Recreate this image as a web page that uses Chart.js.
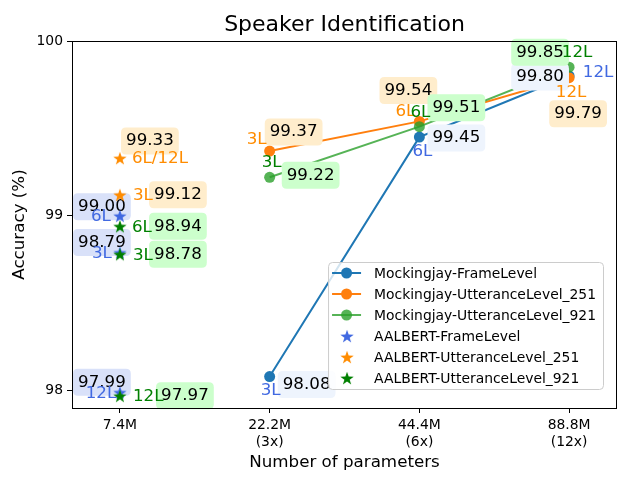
<!DOCTYPE html>
<html>
<head>
<meta charset="utf-8">
<script src="https://cdn.jsdelivr.net/npm/chart.js@4/dist/chart.umd.min.js"></script>
<style>
  html, body { margin: 0; padding: 0; background: #ffffff; }
  #wrap { width: 640px; height: 480px; }
</style>
</head>
<body>
<div id="wrap"><canvas id="c" width="640" height="480"></canvas></div>
<script>
// ---------------- data ----------------
const paramLabels = ['7.4M', '22.2M', '44.4M', '88.8M'];
const paramRatios = ['', '(3x)', '(6x)', '(12x)'];
const yTicks = [98, 99, 100];

const mjParamIdx = [1, 2, 3];
const mjLayers = ['3L', '6L', '12L'];
const mjFrameAcc = [98.08, 99.45, 99.80];
const mjUtt251Acc = [99.37, 99.54, 99.79];
const mjUtt921Acc = [99.22, 99.51, 99.85];

const alParamIdx = 0;
const alFrameAcc = [99.00, 98.79, 97.99];
const alFrameLayers = ['6L', '3L', '12L'];
const alUtt251Acc = [99.33, 99.12];
const alUtt251Layers = ['6L/12L', '3L'];
const alUtt921Acc = [98.94, 98.78, 97.97];
const alUtt921Layers = ['6L', '3L', '12L'];

const seriesNames = [
  'Mockingjay-FrameLevel',
  'Mockingjay-UtteranceLevel_251',
  'Mockingjay-UtteranceLevel_921',
  'AALBERT-FrameLevel',
  'AALBERT-UtteranceLevel_251',
  'AALBERT-UtteranceLevel_921'
];

// ---------------- label layout (pixel offsets from each point) ----------------
// l: [dx, dy, align] for layer label, v: [dx, dy] for value box centre
const labelLayout = [
  [ {l:[1,14,'center'], v:[37,8]}, {l:[3,15,'center'], v:[37,1]}, {l:[29,-3,'center'], v:[-29,1]} ],
  [ {l:[-13,-11,'center'], v:[24,-19]}, {l:[-14,-10,'center'], v:[-11,-31]}, {l:[2,15,'center'], v:[9,36]} ],
  [ {l:[2,-15,'center'], v:[41,-2]}, {l:[1,-14,'center'], v:[37,-19]}, {l:[8,-15,'center'], v:[-29,-15]} ],
  [ {l:[-19,1,'center'], v:[-18,-9]}, {l:[-18,1,'center'], v:[-18,-10]}, {l:[-19,1,'center'], v:[-18,-10]} ],
  [ {l:[12,1,'left'], v:[30,-17]}, {l:[13,1,'left'], v:[58,0]} ],
  [ {l:[12,1,'left'], v:[58,0]}, {l:[13,1,'left'], v:[58,0]}, {l:[13,1,'left'], v:[65,0]} ]
];
const layerLabelColors = ['#4169e1', '#ff8c00', '#008000', '#4169e1', '#ff8c00', '#008000'];
const boxColors = ['#eef4fd', '#ffedcc', '#ccffcc', '#d9e1f9', '#ffedcc', '#ccffcc'];

const FONT = '"DejaVu Sans", "Liberation Sans", sans-serif';

function makeStar(color) {
  const s = 16;
  const c = document.createElement('canvas');
  c.width = s; c.height = s;
  const g = c.getContext('2d');
  g.fillStyle = color;
  g.beginPath();
  for (let i = 0; i < 10; i++) {
    const r = (i % 2) ? 2.8 : 7.0;
    const a = -Math.PI / 2 + i * Math.PI / 5;
    const px = s / 2 + r * Math.cos(a);
    const py = s / 2 + 0.8 + r * Math.sin(a);
    if (i === 0) g.moveTo(px, py); else g.lineTo(px, py);
  }
  g.closePath();
  g.fill();
  return c;
}

const layerLists = [mjLayers, mjLayers, mjLayers, alFrameLayers, alUtt251Layers, alUtt921Layers];

function mjPoints(arr) { return arr.map((v, i) => ({x: mjParamIdx[i], y: v})); }
function alPoints(arr) { return arr.map(v => ({x: alParamIdx, y: v})); }

const datasets = [
  {label: seriesNames[0], data: mjPoints(mjFrameAcc), order: 3, borderColor: '#1f77b4', backgroundColor: '#1f77b4', showLine: true, borderWidth: 2, pointRadius: 5.5, pointBorderWidth: 0, pointStyle: 'circle', kind: 'line'},
  {label: seriesNames[1], data: mjPoints(mjUtt251Acc), order: 2, borderColor: '#ff7f0e', backgroundColor: '#ff7f0e', showLine: true, borderWidth: 2, pointRadius: 5.5, pointBorderWidth: 0, pointStyle: 'circle', kind: 'line'},
  {label: seriesNames[2], data: mjPoints(mjUtt921Acc), order: 1, borderColor: 'rgba(44,160,44,0.8)', backgroundColor: 'rgba(44,160,44,0.8)', showLine: true, borderWidth: 2, pointRadius: 5.5, pointBorderWidth: 0, pointStyle: 'circle', kind: 'line'},
  {label: seriesNames[3], data: alPoints(alFrameAcc), order: 0, borderColor: '#4169e1', backgroundColor: '#4169e1', showLine: false, pointStyle: makeStar('#4169e1'), kind: 'star'},
  {label: seriesNames[4], data: alPoints(alUtt251Acc), order: -1, borderColor: '#ff8c00', backgroundColor: '#ff8c00', showLine: false, pointStyle: makeStar('#ff8c00'), kind: 'star'},
  {label: seriesNames[5], data: alPoints(alUtt921Acc), order: -2, borderColor: '#008000', backgroundColor: '#008000', showLine: false, pointStyle: makeStar('#008000'), kind: 'star'}
];

function roundRect(ctx, x, y, w, h, r) {
  ctx.beginPath();
  ctx.moveTo(x + r, y);
  ctx.lineTo(x + w - r, y);
  ctx.quadraticCurveTo(x + w, y, x + w, y + r);
  ctx.lineTo(x + w, y + h - r);
  ctx.quadraticCurveTo(x + w, y + h, x + w - r, y + h);
  ctx.lineTo(x + r, y + h);
  ctx.quadraticCurveTo(x, y + h, x, y + h - r);
  ctx.lineTo(x, y + r);
  ctx.quadraticCurveTo(x, y, x + r, y);
  ctx.closePath();
}

function drawAnnotations(chart) {
  const ctx = chart.ctx;
  const xs = chart.scales.x, ys = chart.scales.y;
  ctx.save();
  chart.data.datasets.forEach((ds, di) => {
    ds.data.forEach((p, pi) => {
      const px = xs.getPixelForValue(p.x);
      const py = ys.getPixelForValue(p.y);
      const lay = labelLayout[di][pi];
      const txt = p.y.toFixed(2);
      ctx.font = '16.7px ' + FONT;
      const tw = ctx.measureText(txt).width;
      const bw = tw + 10, bh = 27;
      const cx = px + lay.v[0], cy = py + lay.v[1];
      ctx.fillStyle = boxColors[di];
      roundRect(ctx, cx - bw / 2, cy - bh / 2, bw, bh, 5);
      ctx.fill();
      ctx.fillStyle = '#000000';
      ctx.textAlign = 'center';
      ctx.textBaseline = 'middle';
      ctx.fillText(txt, cx, cy);
      ctx.fillStyle = layerLabelColors[di];
      ctx.textAlign = lay.l[2];
      ctx.fillText(layerLists[di][pi], px + lay.l[0], py + lay.l[1]);
    });
  });
  ctx.restore();
}

let annotated = false;
const decorPlugin = {
  id: 'decor',
  beforeDatasetsDraw() { annotated = false; },
  beforeDatasetDraw(chart, args) {
    const ds = chart.data.datasets[args.index];
    if (!annotated && ds.kind === 'star') { drawAnnotations(chart); annotated = true; }
  },
  afterDatasetsDraw(chart) {
    if (!annotated) { drawAnnotations(chart); annotated = true; }
  },
  afterDraw(chart) {
    const ctx = chart.ctx;
    const ca = chart.chartArea;
    ctx.save();
    ctx.strokeStyle = '#000000';
    ctx.lineWidth = 1;
    ctx.strokeRect(Math.round(ca.left) + 0.5, Math.round(ca.top) + 0.5, Math.round(ca.right - ca.left) - 1, Math.round(ca.bottom - ca.top));
    ctx.fillStyle = '#000000';
    ctx.font = '22px ' + FONT;
    ctx.textAlign = 'center';
    ctx.textBaseline = 'middle';
    ctx.fillText('Speaker Identification', (ca.left + ca.right) / 2, 25);
    ctx.font = '16.7px ' + FONT;
    ctx.fillText('Number of parameters', (ca.left + ca.right) / 2, 463);
    ctx.save();
    ctx.translate(20, (ca.top + ca.bottom) / 2);
    ctx.rotate(-Math.PI / 2);
    ctx.fillText('Accuracy (%)', 0, 0);
    ctx.restore();
    // legend
    ctx.font = '13.9px ' + FONT;
    let maxW = 0;
    chart.data.datasets.forEach(ds => { maxW = Math.max(maxW, ctx.measureText(ds.label).width); });
    const lw = 45 + maxW + 8;
    const rowH = 21;
    const lh = chart.data.datasets.length * rowH + 1;
    const lx = ca.right - 14 - lw;
    const ly = ca.bottom - 19 - lh;
    roundRect(ctx, lx + 0.5, ly + 0.5, lw, lh, 4);
    ctx.fillStyle = 'rgba(255,255,255,0.8)';
    ctx.fill();
    ctx.strokeStyle = '#cccccc';
    ctx.lineWidth = 1;
    ctx.stroke();
    chart.data.datasets.forEach((ds, i) => {
      const ry = ly + 11 + i * rowH;
      if (ds.kind === 'line') {
        ctx.strokeStyle = ds.borderColor;
        ctx.lineWidth = 2;
        ctx.beginPath();
        ctx.moveTo(lx + 4, ry);
        ctx.lineTo(lx + 33, ry);
        ctx.stroke();
        ctx.fillStyle = ds.backgroundColor;
        ctx.beginPath();
        ctx.arc(lx + 18.5, ry, 5.5, 0, Math.PI * 2);
        ctx.fill();
      } else {
        ctx.drawImage(ds.pointStyle, lx + 19 - 8, ry - 8);
      }
      ctx.fillStyle = '#000000';
      ctx.textAlign = 'left';
      ctx.textBaseline = 'middle';
      ctx.fillText(ds.label, lx + 46, ry + 1);
    });
    ctx.restore();
  }
};

new Chart(document.getElementById('c'), {
  type: 'scatter',
  data: { datasets: datasets },
  options: {
    responsive: false,
    animation: false,
    events: [],
    layout: { padding: { left: 0, top: 41, right: 23, bottom: 0 } },
    plugins: { legend: { display: false }, title: { display: false }, tooltip: { enabled: false } },
    scales: {
      x: {
        type: 'linear',
        min: -0.32, max: 3.32,
        afterBuildTicks(s) { s.ticks = paramLabels.map((_, i) => ({value: i})); },
        afterFit(s) { s.height = 72; },
        ticks: {
          color: '#000000',
          font: { family: FONT, size: 13.9, lineHeight: 1.22 },
          padding: 4,
          maxRotation: 0,
          autoSkip: false,
          callback(v) {
            const i = Math.round(v);
            return paramRatios[i] ? [paramLabels[i], paramRatios[i]] : paramLabels[i];
          }
        },
        grid: { display: true, drawOnChartArea: false, drawTicks: true, tickLength: 5, color: '#000000', lineWidth: 1 },
        border: { display: false }
      },
      y: {
        type: 'linear',
        min: 97.9, max: 100,
        afterBuildTicks(s) { s.ticks = yTicks.map(v => ({value: v})); },
        afterFit(s) { s.width = 72; },
        ticks: {
          color: '#000000',
          font: { family: FONT, size: 13.9 },
          padding: 4,
          callback(v) { return String(v); }
        },
        grid: { display: true, drawOnChartArea: false, drawTicks: true, tickLength: 5, color: '#000000', lineWidth: 1 },
        border: { display: false }
      }
    }
  },
  plugins: [decorPlugin]
});
</script>
</body>
</html>
